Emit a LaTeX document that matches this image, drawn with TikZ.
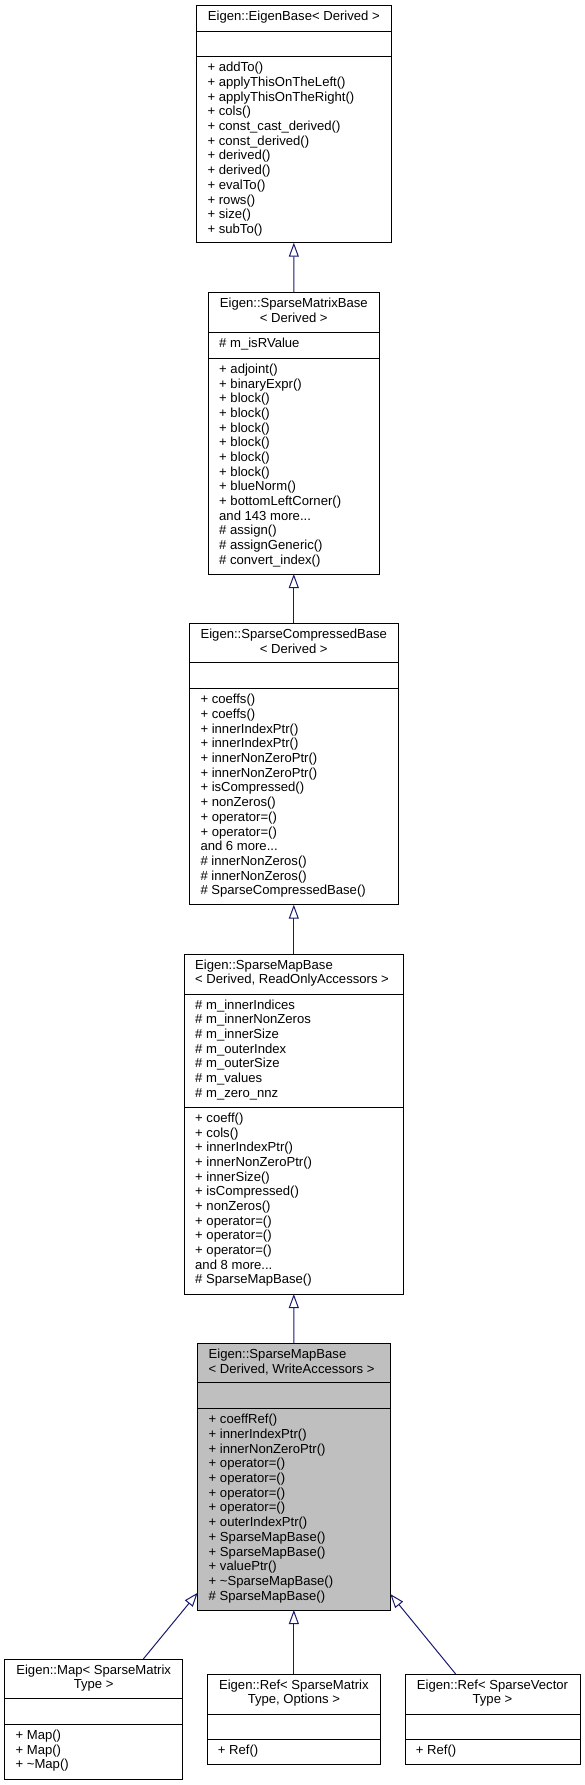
\documentclass[tikz,border=0pt]{standalone}
\usepackage{fontspec}
\setmainfont{Liberation Sans}
\usetikzlibrary{arrows.meta,fit}
\definecolor{edgeblue}{HTML}{191970}
\definecolor{hlgray}{HTML}{BFBFBF}
\newcommand\tdots{...}
\newcommand\mlines[4]{\foreach \itm [count=\i from 0] in {#4} {\node[txt] (#1-\i) at (#2,{#3+\i*14.68}) {\itm};}}
\begin{document}
\begin{tikzpicture}[x=1pt,y=-1pt,
  classbox/.style={draw=black, line width=1pt, inner sep=0pt, outer sep=0pt},
  sepline/.style={draw=black, line width=1pt},
  txt/.style={anchor=base west, inner sep=0pt, font=\fontsize{13.1}{14.68}\selectfont},
  ttl/.style={anchor=base, inner sep=0pt, font=\fontsize{13.1}{14.68}\selectfont},
  inh/.style={draw=edgeblue, line width=1pt, -{Triangle[length=14pt,width=10pt,fill=white]}}]
\useasboundingbox (0,0) rectangle (585,1785);

% ---- Box 1: EigenBase
\node[classbox, fit={(196.7,5.7) (391,242.7)}] (eb) {};
\draw[sepline] (196.7,31.7) -- (391,31.7);
\draw[sepline] (196.7,56.7) -- (391,56.7);
\node[ttl] (eb-t) at (293.85,20.9) {Eigen::EigenBase< Derived >};
\mlines{ebm}{207.4}{71.9}{+ addTo(),+ applyThisOnTheLeft(),+ applyThisOnTheRight(),+ cols(),+ const\_cast\_derived(),+ const\_derived(),+ derived(),+ derived(),+ evalTo(),+ rows(),+ size(),+ subTo()}

% ---- Box 2: SparseMatrixBase
\node[classbox, fit={(208.3,292.7) (379.3,574)}] (smb) {};
\draw[sepline] (208.3,332.3) -- (379.3,332.3);
\draw[sepline] (208.3,358.3) -- (379.3,358.3);
\node[ttl] (smb-t1) at (293.8,307.9) {Eigen::SparseMatrixBase};
\node[ttl] (smb-t2) at (293.8,322.58) {< Derived >};
\mlines{smbf}{219}{347.5}{\# m\_isRValue}
\mlines{smbm}{219}{373.5}{+ adjoint(),+ binaryExpr(),+ block(),+ block(),+ block(),+ block(),+ block(),+ block(),+ blueNorm(),+ bottomLeftCorner(),and 143 more\tdots,\# assign(),\# assignGeneric(),\# convert\_index()}

% ---- Box 3: SparseCompressedBase
\node[classbox, fit={(189.3,623.3) (398.3,904.7)}] (scb) {};
\draw[sepline] (189.3,662.7) -- (398.3,662.7);
\draw[sepline] (189.3,688.7) -- (398.3,688.7);
\node[ttl] (scb-t1) at (293.8,638.5) {Eigen::SparseCompressedBase};
\node[ttl] (scb-t2) at (293.8,653.18) {< Derived >};
\mlines{scbm}{200.3}{703.9}{+ coeffs(),+ coeffs(),+ innerIndexPtr(),+ innerIndexPtr(),+ innerNonZeroPtr(),+ innerNonZeroPtr(),+ isCompressed(),+ nonZeros(),+ operator=(),+ operator=(),and 6 more\tdots,\# innerNonZeros(),\# innerNonZeros(),\# SparseCompressedBase()}

% ---- Box 4: SparseMapBase ReadOnly
\node[classbox, fit={(184.3,954) (403.3,1294)}] (smbro) {};
\draw[sepline] (184.3,994) -- (403.3,994);
\draw[sepline] (184.3,1107.3) -- (403.3,1107.3);
\node[txt] (smbro-t1) at (195,969.2) {Eigen::SparseMapBase};
\node[txt] (smbro-t2) at (195,983.88) {< Derived, ReadOnlyAccessors >};
\mlines{smbrof}{195}{1009.2}{\# m\_innerIndices,\# m\_innerNonZeros,\# m\_innerSize,\# m\_outerIndex,\# m\_outerSize,\# m\_values,\# m\_zero\_nnz}
\mlines{smbrom}{195}{1122.5}{+ coeff(),+ cols(),+ innerIndexPtr(),+ innerNonZeroPtr(),+ innerSize(),+ isCompressed(),+ nonZeros(),+ operator=(),+ operator=(),+ operator=(),and 8 more\tdots,\# SparseMapBase()}

% ---- Box 5: SparseMapBase WriteAccessors (highlighted)
\node[classbox, fill=hlgray, fit={(197.7,1343.3) (390,1610)}] (smbwa) {};
\draw[sepline] (197.7,1382.7) -- (390,1382.7);
\draw[sepline] (197.7,1408.7) -- (390,1408.7);
\node[txt] (smbwa-t1) at (208.5,1358.5) {Eigen::SparseMapBase};
\node[txt] (smbwa-t2) at (208.5,1373.18) {< Derived, WriteAccessors >};
\mlines{smbwam}{208.5}{1423.9}{+ coeffRef(),+ innerIndexPtr(),+ innerNonZeroPtr(),+ operator=(),+ operator=(),+ operator=(),+ operator=(),+ outerIndexPtr(),+ SparseMapBase(),+ SparseMapBase(),+ valuePtr(),+ \textasciitilde SparseMapBase(),\# SparseMapBase()}

% ---- Map
\node[classbox, fit={(4.7,1659) (182.7,1779.3)}] (map) {};
\draw[sepline] (4.7,1698.3) -- (182.7,1698.3);
\draw[sepline] (4.7,1724.3) -- (182.7,1724.3);
\node[ttl] (map-t1) at (93.7,1674.2) {Eigen::Map< SparseMatrix};
\node[ttl] (map-t2) at (93.7,1688.88) {Type >};
\mlines{mapm}{15.4}{1739.5}{+ Map(),+ Map(),+ \textasciitilde Map()}

% ---- Ref SparseMatrix
\node[classbox, fit={(207,1674) (380.7,1764.3)}] (refm) {};
\draw[sepline] (207,1714) -- (380.7,1714);
\draw[sepline] (207,1739.7) -- (380.7,1739.7);
\node[ttl] (refm-t1) at (293.85,1689.2) {Eigen::Ref< SparseMatrix};
\node[ttl] (refm-t2) at (293.85,1703.88) {Type, Options >};
\mlines{refmm}{217.7}{1754.9}{+ Ref()}

% ---- Ref SparseVector
\node[classbox, fit={(405,1674) (580,1764.3)}] (refv) {};
\draw[sepline] (405,1714) -- (580,1714);
\draw[sepline] (405,1739.7) -- (580,1739.7);
\node[ttl] (refv-t1) at (492.5,1689.2) {Eigen::Ref< SparseVector};
\node[ttl] (refv-t2) at (492.5,1703.88) {Type >};
\mlines{refvm}{415.7}{1754.9}{+ Ref()}

% ---- inheritance connectors
\draw[inh] (smb.north) -- (eb.south);
\draw[inh] (scb.north) -- (smb.south);
\draw[inh] (smbro.north) -- (scb.south);
\draw[inh] (smbwa.north) -- (smbro.south);
\draw[inh] (refm.north) -- (smbwa.south);
\coordinate (mapt) at (143.3,1659);
\coordinate (wal) at (197.7,1592.7);
\draw[inh] (mapt) -- (wal);
\coordinate (refvt) at (455.7,1674);
\coordinate (war) at (390.3,1594);
\draw[inh] (refvt) -- (war);
\end{tikzpicture}
\end{document}
